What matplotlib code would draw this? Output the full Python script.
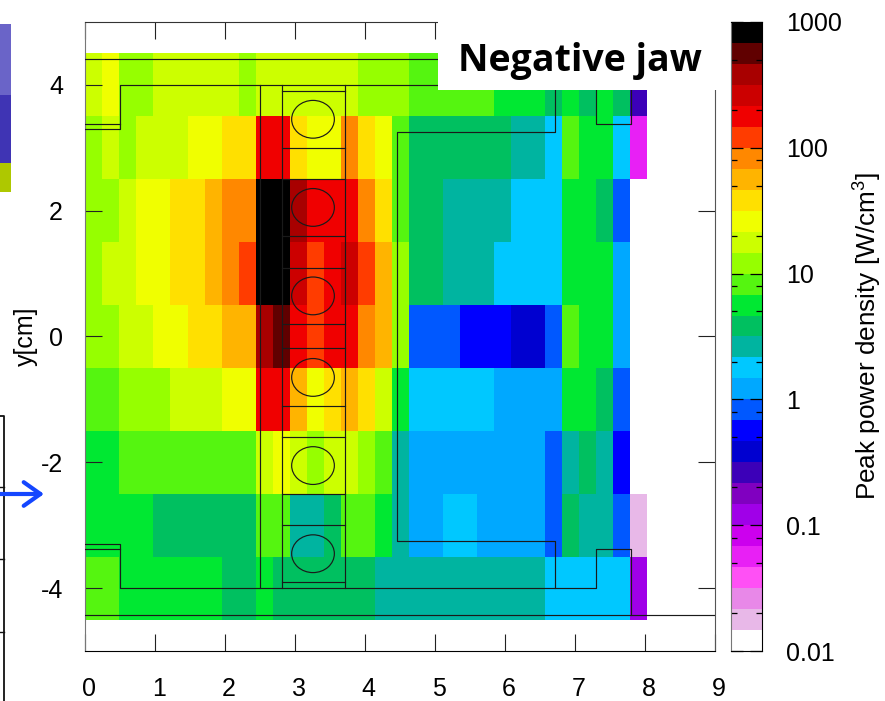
"""
peak power density map of the negative jaw, with the jaw outline drawn on top
"""

from matplotlib import pyplot as plt
from matplotlib.colors import BoundaryNorm, ListedColormap
from matplotlib.patches import Ellipse, Rectangle
from matplotlib.transforms import ScaledTranslation
import numpy as np

plt.rcParams['font.family'] = ['Liberation Sans', 'DejaVu Sans']
plt.rcParams['mathtext.default'] = 'regular'

# colour bands of the scale, top (1000) to bottom (0.01)
band_colors = ['#000000', '#600000', '#a80000', '#cc0000', '#f00000', '#ff3c00',
               '#ff8800', '#ffb400', '#ffe000', '#f0ff00', '#ccff00', '#96ff00',
               '#55f510', '#00e832', '#00c060', '#00b4a0', '#00c8ff', '#00a8ff',
               '#0058ff', '#0000ff', '#0000d0', '#3c00b8', '#8000c0', '#a000e8',
               '#cc00ee', '#e820f5', '#ff50f5', '#e888e8', '#e8b8e8', '#ffffff']

# band number (1 = top of scale) read for every cell, rows from y=4.5 downwards
row_0 = [11, 10, 12, 12, 11, 11, 11, 11, 11, 12, 11, 11, 11, 11, 11, 11, 12, 12, 12, 13, 13, 13, 13, 13, 14, 14, 14, 15, 14, 15, 14, 15, 22]
row_1 = [12, 11, 12, 11, 11, 11, 10, 10, 9, 9, 5, 5, 9, 10, 10, 7, 9, 10, 13, 15, 15, 15, 15, 15, 15, 16, 16, 17, 13, 14, 14, 17, 26]
row_2 = [12, 12, 11, 10, 10, 9, 9, 8, 7, 7, 1, 1, 3, 5, 5, 5, 7, 9, 13, 15, 15, 16, 16, 16, 16, 17, 17, 17, 14, 14, 15, 19, 30]
row_3 = [12, 11, 11, 10, 10, 9, 9, 8, 7, 6, 1, 1, 4, 6, 5, 4, 6, 8, 12, 15, 15, 16, 16, 16, 17, 17, 17, 17, 14, 14, 14, 18, 30]
row_4 = [12, 12, 11, 11, 10, 10, 9, 9, 8, 8, 3, 2, 5, 6, 5, 5, 7, 8, 12, 19, 19, 19, 20, 20, 20, 21, 21, 19, 13, 14, 14, 18, 30]
row_5 = [13, 13, 12, 12, 12, 11, 11, 11, 10, 10, 5, 5, 8, 10, 9, 8, 9, 11, 14, 17, 17, 17, 17, 17, 18, 18, 18, 18, 14, 14, 15, 19, 30]
row_6 = [14, 14, 13, 13, 13, 13, 13, 13, 13, 13, 11, 10, 11, 12, 11, 11, 12, 13, 16, 18, 18, 18, 18, 18, 18, 18, 18, 19, 16, 15, 16, 20, 30]
row_7 = [14, 14, 14, 14, 15, 15, 15, 15, 15, 15, 13, 13, 16, 16, 15, 13, 13, 14, 16, 18, 18, 17, 17, 18, 18, 18, 18, 19, 15, 16, 16, 19, 29]
row_8 = [13, 13, 14, 14, 14, 14, 14, 14, 15, 15, 14, 15, 15, 15, 15, 15, 15, 16, 16, 16, 16, 16, 16, 16, 16, 16, 16, 17, 17, 17, 17, 17, 24]

x_end = 8.03
y_end = 4.5

# jaw outline, cm
long_lines_y = [4.41, -4.42]
outline_x = [0, 0.5, 0.5, 6.71, 6.71, 4.45, 4.45, 6.71, 6.71, 0.5, 0.5, 0]
outline_y = [3.30, 3.30, 4, 4, 3.25, 3.25, -3.25, -3.25, -4, -4, -3.30, -3.30]
notch_top_x = [0, 0.5]
notch_top_y = [3.37, 3.37]
notch_bottom_y = [-3.38, -3.38]
right_top_x = [6.71, 7.3, 7.3, 7.8, 7.8]
right_top_y = [4, 4, 3.37, 3.37, 4.42]
right_bottom_y = [-4, -4, -3.37, -3.37, -4.42]
pipe_wall_x = 2.5
block_left = 2.805
block_right = 3.705
block_top = 4
block_bottom = -4
block_seams = [3.905, 3.0, 2.5, 1.6, 1.095, 0.2, -0.19, -1.10, -1.60, -2.50, -3.0, -3.905]
hole_x = 3.253
hole_y = [3.45, 2.05, 0.645, -0.65, -2.05, -3.45]
hole_w = 0.61
hole_h = 0.60

x_ticks = [0, 1, 2, 3, 4, 5, 6, 7, 8, 9]
x_labels = ['0', '1', '2', '3', '4', '5', '6', '7', '8', '9']
y_ticks = [-4, -2, 0, 2, 4]
y_labels = ['-4', '-2', '0', '2', '4']
cbar_ticks = [0.01, 0.1, 1, 10, 100, 1000]
cbar_labels = ['0.01', '0.1', '1', '10', '100', '1000']
cbar_minor = [0.02, 0.05, 0.08, 0.2, 0.5, 0.8, 2, 5, 8, 20, 50, 80, 200, 500, 800]

# bits of the neighbouring slide content, in pixels
strip_tops = [24, 95, 163]
strip_bottoms = [95, 163, 192]
strip_colors = ['#6a64c8', '#3f34b4', '#aec800']
frame_ticks = [487, 559, 632]


def main():
    W, H = 885, 701
    fig = plt.figure(figsize=(W / 100, H / 100), dpi=100)
    ax = fig.add_axes([85.3 / W, 1 - 651.3 / H, 630 / W, 629.6 / H])
    cax = fig.add_axes([730.7 / W, 1 - 651.3 / H, 31.6 / W, 629.6 / H])

    edges = np.logspace(-2, 3, 31)
    cmap = ListedColormap(band_colors[::-1])
    norm = BoundaryNorm(edges, 30)
    centres = np.sqrt(edges[:-1] * edges[1:])[::-1]

    bands = np.array([row_0, row_1, row_2, row_3, row_4, row_5, row_6, row_7, row_8])
    density = centres[bands - 1]
    x_edges = np.linspace(0, x_end, bands.shape[1] + 1)
    y_edges = np.linspace(y_end, -y_end, bands.shape[0] + 1)
    ax.pcolormesh(x_edges, y_edges, density, cmap=cmap, norm=norm)

    drawOutline(ax)

    ax.set_xlim(0, 9)
    ax.set_ylim(-5, 5)
    ax.set_xticks(x_ticks, x_labels)
    ax.set_yticks(y_ticks, y_labels)
    ax.tick_params(direction='in', length=12, width=0.8, top=True, right=True, labelsize=18, color='#222222')
    ax.tick_params(axis='x', pad=18.5)
    ax.tick_params(axis='y', pad=16)
    shift = ScaledTranslation(3.5 / 100, 0, fig.dpi_scale_trans)
    for lab in ax.get_xticklabels():
        lab.set_transform(lab.get_transform() + shift)
    ax.spines['left'].set_color('#777777')
    ax.spines['right'].set_color('#555555')
    ax.spines['top'].set_color('#333333')
    ax.set_ylabel('y[cm]', fontsize=18, labelpad=2)

    cax.pcolormesh([0, 1], edges, centres[::-1].reshape(-1, 1), cmap=cmap, norm=norm)
    cax.set_yscale('log')
    cax.set_ylim(0.01, 1000)
    cax.set_xticks([])
    cax.yaxis.tick_right()
    cax.set_yticks(cbar_ticks, cbar_labels)
    cax.set_yticks(cbar_minor, [''] * len(cbar_minor), minor=True)
    cax.tick_params(axis='y', which='major', direction='in', length=8.5, width=0.9, left=True, right=True, labelsize=18, pad=17)
    cax.tick_params(axis='y', which='minor', direction='in', length=4.5, width=0.9, left=True, right=True)
    cax.spines['left'].set_color('#777777')
    cax.yaxis.set_label_position('right')
    cax.set_ylabel('Peak power density [W/cm$^3$]', fontsize=18.8, labelpad=7.5)

    drawOverlay(fig, W, H)
    fig.savefig('out.png', dpi=100)


def drawOutline(ax):
    line = dict(color='#1a1a1a', linewidth=0.85, zorder=3)
    for y in long_lines_y:
        ax.plot([0, 9], [y, y], **line)
    ax.plot(outline_x, outline_y, **line)
    ax.plot(notch_top_x, notch_top_y, **line)
    ax.plot(notch_top_x, notch_bottom_y, **line)
    ax.plot(right_top_x, right_top_y, **line)
    ax.plot(right_top_x, right_bottom_y, **line)
    ax.plot([pipe_wall_x, pipe_wall_x], [block_bottom, block_top], **line)
    ax.plot([block_left, block_left], [block_bottom, block_top], **line)
    ax.plot([block_right, block_right], [block_bottom, block_top], **line)
    for y in block_seams:
        ax.plot([block_left, block_right], [y, y], **line)
    for y in hole_y:
        ax.add_patch(Ellipse((hole_x, y), hole_w, hole_h, fill=False, edgecolor='#1a1a1a', linewidth=0.85, zorder=3))


def drawOverlay(fig, W, H):
    over = fig.add_axes([0, 0, 1, 1], zorder=10)
    over.set_xlim(0, W)
    over.set_ylim(H, 0)
    over.axis('off')

    over.add_patch(Rectangle((438, 0), 287, 90, color='white', linewidth=0))
    over.text(458, 71, 'Negative jaw', fontsize=27, fontweight='bold', family='Open Sans', color='black', va='baseline')

    for top, bottom, c in zip(strip_tops, strip_bottoms, strip_colors):
        over.add_patch(Rectangle((0, top), 11, bottom - top, color=c, linewidth=0))

    over.plot([0, 4, 4], [415.5, 415.5, 701], color='#111111', linewidth=1.3)
    for y in frame_ticks:
        over.plot([0, 4], [y, y], color='#111111', linewidth=1)

    over.annotate('', xy=(44, 494), xytext=(0, 494),
                  arrowprops=dict(arrowstyle='->,head_length=1.2,head_width=0.85', color='#1446ff', linewidth=3, shrinkA=0, shrinkB=0))


if __name__ == "__main__":
    main()
